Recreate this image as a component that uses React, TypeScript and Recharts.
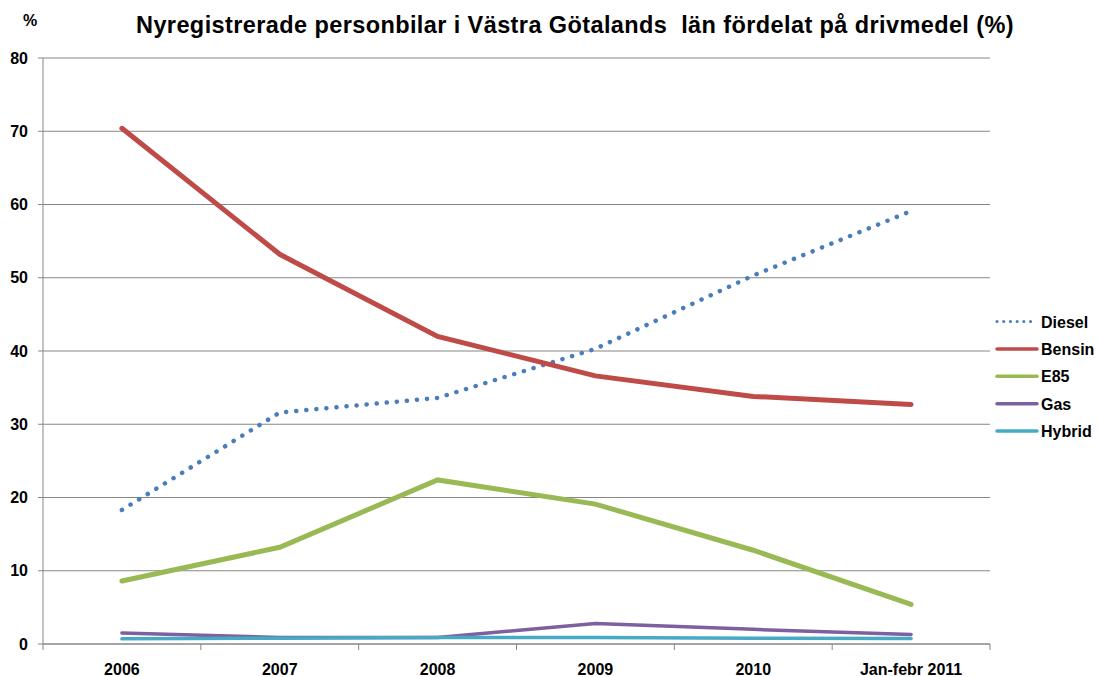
import { CartesianGrid, Line, LineChart, XAxis, YAxis } from "recharts"

const categories = ["2006", "2007", "2008", "2009", "2010", "Jan-febr 2011"]
const diesel = [18.3, 31.6, 33.6, 40.3, 50.3, 59.1]
const bensin = [70.4, 53.2, 42.0, 36.6, 33.8, 32.7]
const e85 = [8.6, 13.2, 22.4, 19.1, 12.8, 5.4]
const gas = [1.5, 0.9, 0.9, 2.8, 2.0, 1.3]
const hybrid = [0.7, 0.8, 0.9, 0.9, 0.8, 0.75]
const yTicks = [0, 10, 20, 30, 40, 50, 60, 70, 80]

const data = categories.map((name, i) => ({
  name,
  Diesel: diesel[i],
  Bensin: bensin[i],
  E85: e85[i],
  Gas: gas[i],
  Hybrid: hybrid[i],
}))

const series = [
  { key: "Diesel", color: "#4A7EBB", width: 4.5, dash: "0.1 10" },
  { key: "Bensin", color: "#BE4B48", width: 5 },
  { key: "E85", color: "#98B954", width: 5 },
  { key: "Gas", color: "#7D60A0", width: 3.5 },
  { key: "Hybrid", color: "#46AAC5", width: 3.5 },
]

const font = "'Liberation Sans', Arial, sans-serif"
const W = 1098
const H = 677
const plotLeft = 43
const plotRight = 990
const half = (plotRight - plotLeft) / categories.length / 2

function XTick(props: any) {
  const { x, y, payload, index } = props
  const last = index === categories.length - 1
  return (
    <g>
      <line x1={x - half} x2={x - half} y1={y - 8} y2={y - 2} stroke="#868686" />
      {last && <line x1={x + half} x2={x + half} y1={y - 8} y2={y - 2} stroke="#868686" />}
      <text x={x} y={y + 23} textAnchor="middle" fontFamily={font} fontWeight="bold" fontSize={16} fill="#000">
        {payload.value}
      </text>
    </g>
  )
}

function LegendBox() {
  return (
    <svg width={106} height={145} style={{ position: "absolute", left: 992, top: 308 }}>
      {series.map((s, i) => {
        const cy = 13.5 + i * 27.4
        return (
          <g key={s.key}>
            <line
              x1={5}
              x2={45}
              y1={cy}
              y2={cy}
              stroke={s.color}
              strokeWidth={s.dash ? 3 : 3.5}
              strokeDasharray={s.dash ? "0.1 6.6" : undefined}
              strokeLinecap="round"
            />
            <text x={49} y={cy + 6} fontFamily={font} fontWeight="bold" fontSize={16} fill="#000">
              {s.key}
            </text>
          </g>
        )
      })}
    </svg>
  )
}

export default function App() {
  return (
    <div style={{ position: "absolute", left: 0, top: 0, width: W, height: H, background: "#fff", overflow: "hidden" }}>
      <LineChart width={W} height={H} data={data} margin={{ top: 58, right: W - plotRight, bottom: 0, left: 0 }}>
        <text
          x={575}
          y={33}
          textAnchor="middle"
          fontFamily={font}
          fontWeight="bold"
          fontSize={23.5}
          letterSpacing={0.4}
          fill="#000"
          style={{ whiteSpace: "pre" }}
        >
          Nyregistrerade personbilar i Västra Götalands  län fördelat på drivmedel (%)
        </text>
        <text x={30} y={26} textAnchor="middle" fontFamily={font} fontWeight="bold" fontSize={16} fill="#000">
          %
        </text>
        <CartesianGrid vertical={false} stroke="#868686" strokeWidth={1} />
        <XAxis
          dataKey="name"
          height={H - 644}
          stroke="#868686"
          tickLine={false}
          tick={<XTick />}
          interval={0}
          padding={{ left: half, right: half }}
        />
        <YAxis
          width={plotLeft}
          domain={[0, 80]}
          ticks={yTicks}
          stroke="#868686"
          tickSize={5}
          tick={{ fill: "#000", fontFamily: font, fontWeight: "bold", fontSize: 16 }}
          tickMargin={10}
        />
        {series.map((s) => (
          <Line
            key={s.key}
            dataKey={s.key}
            stroke={s.color}
            strokeWidth={s.width}
            strokeDasharray={s.dash}
            strokeLinecap="round"
            dot={false}
            activeDot={false}
            isAnimationActive={false}
          />
        ))}
      </LineChart>
      <LegendBox />
    </div>
  )
}
